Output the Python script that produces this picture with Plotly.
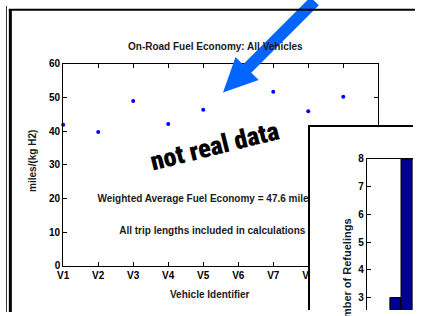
import plotly.graph_objects as go

# ---------------- data ----------------
vehicles = ["V1", "V2", "V3", "V4", "V5", "V6", "V7", "V8", "V9", "V10"]
fuel_economy = [41.9, 39.7, 48.9, 42.1, 46.3, 56.0, 51.7, 45.9, 50.2, None]
econ_ticks = [0, 10, 20, 30, 40, 50, 60]

refuel_bins = [1, 2]
refuel_counts = [3, 8]
refuel_ticks = [3, 4, 5, 6, 7, 8]

# ---------------- helpers (pixel -> paper) ----------------
W, H = 422, 316
def px(x):
    return x / W
def py(y):
    return 1 - y / H

FONT = "Liberation Sans, Arial, Helvetica, sans-serif"
idx = list(range(1, len(vehicles) + 1))
txtfont = dict(family=FONT, size=10, color="#1a1a1a", weight="bold")
tickfont = dict(family=FONT, size=10, color="black", weight="bold")

fig = go.Figure()

# main scatter
fig.add_trace(go.Scatter(
    x=idx, y=fuel_economy, mode="markers",
    marker=dict(color="#0000FF", size=4),
    xaxis="x", yaxis="y", hoverinfo="skip", cliponaxis=False,
))
# in-plot texts (clipped by the overlaid inset box)
fig.add_trace(go.Scatter(
    x=[1.98], y=[19.7], mode="text",
    text=["Weighted Average Fuel Economy = 47.6 miles/(kg H2)"],
    textposition="middle right", textfont=txtfont,
    xaxis="x", yaxis="y", hoverinfo="skip",
))
fig.add_trace(go.Scatter(
    x=[2.6], y=[10.3], mode="text",
    text=["All trip lengths included in calculations"],
    textposition="middle right", textfont=txtfont,
    xaxis="x", yaxis="y", hoverinfo="skip",
))

# box subplot (white panel with border) that hides part of the main chart
fig.add_trace(go.Scatter(x=[0.5], y=[0.5], mode="markers", marker=dict(opacity=0),
                         xaxis="x2", yaxis="y2", hoverinfo="skip"))

# inset bar chart
fig.add_trace(go.Bar(
    x=refuel_bins, y=refuel_counts, width=1,
    marker=dict(color="#000090", line=dict(color="black", width=1)),
    xaxis="x3", yaxis="y3", hoverinfo="skip",
))

# arrow polygon (pixel positions)
S = (320, -5); E = (250, 65); o = (4.3, 4.3)
B1 = (238, 53); B2 = (262, 77); T = (225, 90)
pts = [(S[0] + o[0], S[1] + o[1]), (E[0] + o[0], E[1] + o[1]), B2, T, B1,
       (E[0] - o[0], E[1] - o[1]), (S[0] - o[0], S[1] - o[1])]
path = "M " + " L ".join(f"{px(a):.5f},{py(b):.5f}" for a, b in pts) + " Z"

fig.update_layout(
    width=W, height=H,
    margin=dict(l=0, r=0, t=0, b=0),
    paper_bgcolor="white", plot_bgcolor="white",
    showlegend=False,
    xaxis=dict(
        domain=[px(59.3), px(386)], range=[1, 10],
        tickvals=idx, ticktext=vehicles, tickfont=tickfont,
        ticks="inside", ticklen=4, tickcolor="black",
        showline=True, linecolor="black", linewidth=1, mirror="ticks",
        showgrid=False, zeroline=False, anchor="y",
    ),
    yaxis=dict(
        domain=[py(270), py(60)], range=[0, 60],
        tickvals=econ_ticks, tickfont=tickfont,
        ticks="inside", ticklen=4, tickcolor="black",
        showline=True, linecolor="black", linewidth=1, mirror="ticks",
        showgrid=False, zeroline=False, anchor="x",
    ),
    xaxis2=dict(
        domain=[px(315), 1], range=[0, 1], side="top",
        showline=True, linecolor="black", linewidth=2,
        showticklabels=False, ticks="", showgrid=False, zeroline=False, anchor="y2",
    ),
    yaxis2=dict(
        domain=[0, py(126)], range=[0, 1],
        showline=True, linecolor="black", linewidth=2,
        showticklabels=False, ticks="", showgrid=False, zeroline=False, anchor="x2",
    ),
    xaxis3=dict(
        domain=[px(374), 1], range=[-1.59, 2.58], side="top",
        showline=True, linecolor="black", linewidth=1,
        showticklabels=False, ticks="", showgrid=False, zeroline=False, anchor="y3",
    ),
    yaxis3=dict(
        domain=[0, py(159)], range=[2.55, 8],
        tickvals=refuel_ticks, tickfont=tickfont,
        ticks="inside", ticklen=4, tickcolor="black",
        showline=True, linecolor="black", linewidth=1,
        showgrid=False, zeroline=False, anchor="x3",
    ),
    shapes=[
        dict(type="path", path=path, xref="paper", yref="paper",
             fillcolor="#0066FF", line=dict(width=0), layer="above"),
        dict(type="line", xref="paper", yref="paper",
             x0=px(4.5), x1=px(4.5), y0=py(3), y1=py(318),
             line=dict(color="black", width=3), layer="above"),
        dict(type="line", xref="paper", yref="paper",
             x0=px(0.5), x1=px(0.5), y0=py(0), y1=py(318),
             line=dict(color="#333", width=1), layer="above"),
        dict(type="line", xref="paper", yref="paper",
             x0=px(3), x1=px(424), y0=py(4), y1=py(4),
             line=dict(color="black", width=2), layer="above"),
    ],
    annotations=[
        dict(text="On-Road Fuel Economy: All Vehicles", x=px(217), y=py(42),
             xanchor="center", yanchor="middle",
             xref="paper", yref="paper", showarrow=False, font=txtfont),
        dict(text="Vehicle Identifier", x=px(212), y=py(300),
             xanchor="center", yanchor="middle",
             xref="paper", yref="paper", showarrow=False, font=txtfont),
        dict(text="miles/(kg H2)", x=px(28), y=py(161), textangle=-90,
             xanchor="center", yanchor="middle",
             xref="paper", yref="paper", showarrow=False, font=txtfont),
        dict(text="Number of Refuelings", x=px(354), y=py(280), textangle=-90,
             xanchor="center", yanchor="middle",
             xref="paper", yref="paper", showarrow=False,
             font=dict(family=FONT, size=11, color="#1a1a1a", weight="bold")),
        dict(text="not real data", x=px(216), y=py(146), textangle=-14,
             xanchor="center", yanchor="middle",
             xref="paper", yref="paper", showarrow=False,
             font=dict(family="Roboto Condensed, Liberation Sans Narrow, Lato, sans-serif",
                       size=26, color="black", weight=900)),
    ],
)

fig.write_html(
    "out.html",
    config={"displayModeBar": False},
    post_script="document.documentElement.style.overflow='hidden';"
                "document.body.style.margin='0';document.body.style.overflow='hidden';",
)
